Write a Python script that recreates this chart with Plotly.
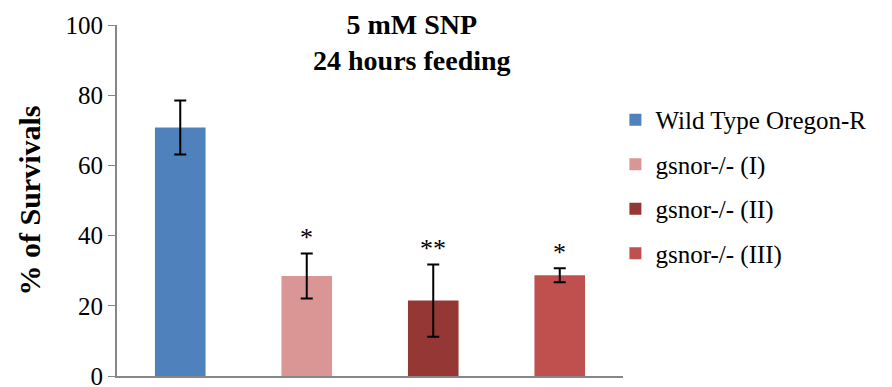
import plotly.graph_objects as go

# Survival data (mean % and standard error)
strains = ["Wild Type Oregon-R", "gsnor-/- (I)", "gsnor-/- (II)", "gsnor-/- (III)"]
survival = [70.8, 28.5, 21.5, 28.7]
errors = [7.7, 6.4, 10.3, 2.0]
significance = ["", "*", "**", "*"]
colors = ["#4F81BD", "#D99694", "#953735", "#C0504D"]

serif = "Liberation Serif, Times New Roman, serif"

fig = go.Figure()
for i, name in enumerate(strains):
    fig.add_trace(go.Bar(
        x=[name], y=[survival[i]], name=name,
        marker=dict(color=colors[i], line=dict(width=0)),
        width=0.4,
        error_y=dict(type="data", array=[errors[i]], visible=True,
                     color="black", thickness=2, width=6),
        legendgroup=name,
    ))

# Significance markers above the error bars
for i, mark in enumerate(significance):
    if mark:
        fig.add_annotation(
            x=strains[i], y=survival[i] + errors[i], yshift=16,
            text=mark, showarrow=False,
            font=dict(family=serif, size=26, color="black"),
        )

fig.add_annotation(
    xref="paper", yref="paper", x=0.583, y=0.95, yanchor="middle",
    text="<b>5 mM SNP<br>24 hours feeding</b>", showarrow=False,
    font=dict(family=serif, size=28, color="black"),
)

fig.update_layout(
    width=892, height=387,
    margin=dict(l=117, r=269, t=25, b=11, autoexpand=False),
    plot_bgcolor="white", paper_bgcolor="white",
    barmode="overlay",
    showlegend=True,
    legend=dict(x=0.985, y=0.795, xanchor="left", yanchor="top",
                font=dict(family=serif, size=25, color="black"),
                tracegroupgap=9, itemwidth=30),
    font=dict(family=serif, color="black"),
    xaxis=dict(showticklabels=False, ticks="", showline=True,
               linecolor="#868686", linewidth=2, showgrid=False,
               automargin=False),
    yaxis=dict(range=[0, 100], tickvals=[0, 20, 40, 60, 80, 100],
               ticks="outside", ticklen=7, ticklabeloverflow="allow",
               automargin=False,
               tickcolor="#868686", showline=True, linecolor="#868686",
               linewidth=2, showgrid=False, zeroline=False,
               tickfont=dict(family=serif, size=25, color="black"),
               title=dict(text="<b>% of Survivals</b>",
                          font=dict(family=serif, size=30, color="black"),
                          standoff=16)),
)

fig.write_html("out.html")
